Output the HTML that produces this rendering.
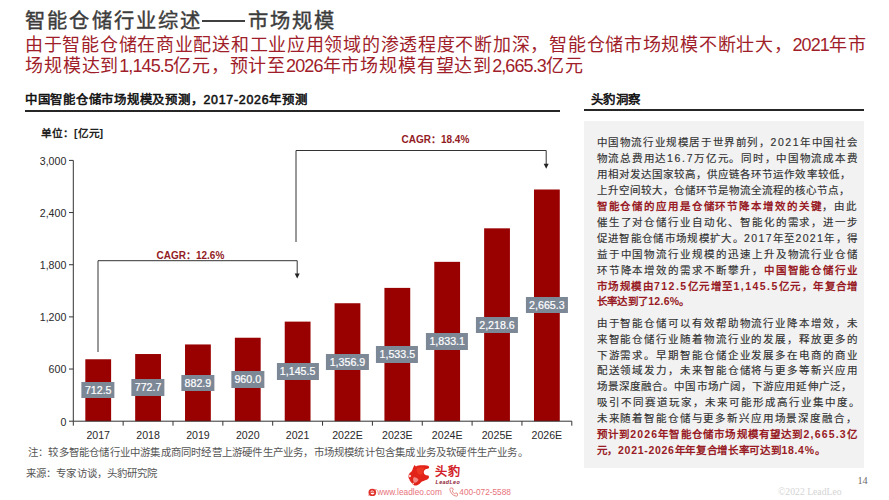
<!DOCTYPE html><html lang="zh-CN"><head><meta charset="utf-8"><style>
*{margin:0;padding:0;box-sizing:border-box}
html,body{width:889px;height:500px;overflow:hidden;background:#fff}
body{position:relative;font-family:"Liberation Sans",sans-serif;}
.abs{position:absolute;white-space:nowrap}
.t{font-size:20.3px;color:#3c3c3c;line-height:26px;-webkit-text-stroke:0.4px #3c3c3c}
.sub{font-size:18px;color:#a01d2a;line-height:22px}
.sub .n{letter-spacing:-0.9px}
.h{font-size:12.4px;font-weight:normal;color:#111;line-height:17px;-webkit-text-stroke:0.55px #111}
.unit{font-size:10.7px;font-weight:bold;color:#222;line-height:14px}
.ax{font-size:10.6px;fill:#2a2a2a;font-family:"Liberation Sans",sans-serif}
.cg{font-size:10px;font-weight:bold;color:#931b24;line-height:13px}
.dl{transform:translateX(-50%);background:#7d8897;color:#fff;-webkit-text-stroke:0.2px #fff;font-size:10.67px;line-height:16.3px;height:16.3px;padding:0 3.3px}
.fn{font-size:10.4px;color:#555;line-height:14px}
.pl{font-size:10.5px;color:#333;line-height:16px;-webkit-text-stroke:0.15px #333}
.pl b{-webkit-text-stroke:0}
.pl b{color:#981b25}
.web{font-size:8.3px;color:#e8737c;line-height:11px}
</style></head><body>
<div id="title" class="t abs" style="left:25px;top:8px;letter-spacing:2.181px">智能仓储行业综述</div>
<div class="abs" style="left:201.8px;top:20.4px;width:43.7px;height:1.6px;background:#404040"></div>
<div id="title2" class="t abs" style="left:247.5px;top:8px;letter-spacing:2.0px">市场规模</div>
<div id="sub1" class="sub abs" style="left:25px;top:34px;letter-spacing:0.717px">由于智能仓储在商业配送和工业应用领域的渗透程度不断加深，智能仓储市场规模不断壮大，<span class="n">2021</span>年市</div>
<div id="sub2" class="sub abs" style="left:25px;top:54.5px;letter-spacing:0.846px">场规模达到<span class="n">1,145.5</span>亿元，预计至<span class="n">2026</span>年市场规模有望达到<span class="n">2,665.3</span>亿元</div>
<div id="h1" class="h abs" style="left:25px;top:91.8px;letter-spacing:0.744px">中国智能仓储市场规模及预测，2017-2026年预测</div>
<div class="abs" style="left:25px;top:110.1px;width:535px;height:1.7px;background:#262626"></div>
<div id="h2" class="h abs" style="left:590.5px;top:91.8px;letter-spacing:0.603px">头豹洞察</div>
<div class="abs" style="left:584px;top:109.1px;width:280px;height:1.7px;background:#262626"></div>
<div class="abs" style="left:584px;top:121px;width:279.6px;height:347px;background:#f2f2f2"></div>
<div class="unit abs" style="left:41px;top:125.5px;">单位：[亿元]</div>
<svg class="abs" style="left:0;top:0" width="889" height="500" viewBox="0 0 889 500"><line x1="73.3" y1="160.40" x2="73.3" y2="421.2" stroke="#333" stroke-width="1"/><line x1="69.0" y1="421.20" x2="73.3" y2="421.20" stroke="#333" stroke-width="1"/><text x="66.3" y="425.60" text-anchor="end" class="ax">0</text><line x1="69.0" y1="369.04" x2="73.3" y2="369.04" stroke="#333" stroke-width="1"/><text x="66.3" y="373.44" text-anchor="end" class="ax">600</text><line x1="69.0" y1="316.88" x2="73.3" y2="316.88" stroke="#333" stroke-width="1"/><text x="66.3" y="321.28" text-anchor="end" class="ax">1,200</text><line x1="69.0" y1="264.72" x2="73.3" y2="264.72" stroke="#333" stroke-width="1"/><text x="66.3" y="269.12" text-anchor="end" class="ax">1,800</text><line x1="69.0" y1="212.56" x2="73.3" y2="212.56" stroke="#333" stroke-width="1"/><text x="66.3" y="216.96" text-anchor="end" class="ax">2,400</text><line x1="69.0" y1="160.40" x2="73.3" y2="160.40" stroke="#333" stroke-width="1"/><text x="66.3" y="164.80" text-anchor="end" class="ax">3,000</text><rect x="85.32" y="359.26" width="25.8" height="61.94" fill="#990000"/><rect x="135.17" y="354.03" width="25.8" height="67.17" fill="#990000"/><rect x="185.03" y="344.45" width="25.8" height="76.75" fill="#990000"/><rect x="234.87" y="337.74" width="25.8" height="83.46" fill="#990000"/><rect x="284.73" y="321.62" width="25.8" height="99.58" fill="#990000"/><rect x="334.58" y="303.24" width="25.8" height="117.96" fill="#990000"/><rect x="384.43" y="287.89" width="25.8" height="133.31" fill="#990000"/><rect x="434.28" y="261.84" width="25.8" height="159.36" fill="#990000"/><rect x="484.13" y="228.33" width="25.8" height="192.87" fill="#990000"/><rect x="533.98" y="189.50" width="25.8" height="231.70" fill="#990000"/><line x1="73.3" y1="421.2" x2="571.80" y2="421.2" stroke="#333" stroke-width="1"/><line x1="73.30" y1="421.2" x2="73.30" y2="425.7" stroke="#333" stroke-width="1"/><line x1="123.15" y1="421.2" x2="123.15" y2="425.7" stroke="#333" stroke-width="1"/><line x1="173.00" y1="421.2" x2="173.00" y2="425.7" stroke="#333" stroke-width="1"/><line x1="222.85" y1="421.2" x2="222.85" y2="425.7" stroke="#333" stroke-width="1"/><line x1="272.70" y1="421.2" x2="272.70" y2="425.7" stroke="#333" stroke-width="1"/><line x1="322.55" y1="421.2" x2="322.55" y2="425.7" stroke="#333" stroke-width="1"/><line x1="372.40" y1="421.2" x2="372.40" y2="425.7" stroke="#333" stroke-width="1"/><line x1="422.25" y1="421.2" x2="422.25" y2="425.7" stroke="#333" stroke-width="1"/><line x1="472.10" y1="421.2" x2="472.10" y2="425.7" stroke="#333" stroke-width="1"/><line x1="521.95" y1="421.2" x2="521.95" y2="425.7" stroke="#333" stroke-width="1"/><line x1="571.80" y1="421.2" x2="571.80" y2="425.7" stroke="#333" stroke-width="1"/><text x="98.22" y="438.8" text-anchor="middle" class="ax">2017</text><text x="148.07" y="438.8" text-anchor="middle" class="ax">2018</text><text x="197.93" y="438.8" text-anchor="middle" class="ax">2019</text><text x="247.77" y="438.8" text-anchor="middle" class="ax">2020</text><text x="297.62" y="438.8" text-anchor="middle" class="ax">2021</text><text x="347.48" y="438.8" text-anchor="middle" class="ax">2022E</text><text x="397.33" y="438.8" text-anchor="middle" class="ax">2023E</text><text x="447.18" y="438.8" text-anchor="middle" class="ax">2024E</text><text x="497.03" y="438.8" text-anchor="middle" class="ax">2025E</text><text x="546.88" y="438.8" text-anchor="middle" class="ax">2026E</text><polyline points="98,352 98,260.7 297.2,260.7 297.2,274" fill="none" stroke="#333" stroke-width="1"/><polygon points="294.7,273.6 299.7,273.6 297.2,278.6" fill="#222"/><polyline points="296,242 296,150.5 546.2,150.5 546.2,164" fill="none" stroke="#333" stroke-width="1"/><polygon points="543.7,163.8 548.7,163.8 546.2,168.8" fill="#222"/></svg>
<div class="cg abs" style="left:156.5px;top:248.5px;">CAGR：12.6%</div>
<div class="cg abs" style="left:401.5px;top:132.5px;">CAGR：18.4%</div>
<div class="dl abs" style="left:98.22px;top:382.08px;">712.5</div>
<div class="dl abs" style="left:148.07px;top:379.46px;">772.7</div>
<div class="dl abs" style="left:197.93px;top:374.67px;">882.9</div>
<div class="dl abs" style="left:247.77px;top:371.32px;">960.0</div>
<div class="dl abs" style="left:297.62px;top:363.26px;">1,145.5</div>
<div class="dl abs" style="left:347.48px;top:354.07px;">1,356.9</div>
<div class="dl abs" style="left:397.33px;top:346.39px;">1,533.5</div>
<div class="dl abs" style="left:447.18px;top:333.37px;">1,833.1</div>
<div class="dl abs" style="left:497.03px;top:316.61px;">2,218.6</div>
<div class="dl abs" style="left:546.88px;top:297.20px;">2,665.3</div>
<div id="fn1" class="fn abs" style="left:28px;top:446px;letter-spacing:0.199px">注：较多智能仓储行业中游集成商同时经营上游硬件生产业务，市场规模统计包含集成业务及软硬件生产业务。</div>
<div id="fn2" class="fn abs" style="left:26px;top:466.7px;letter-spacing:0.122px">来源：专家访谈，头豹研究院</div>
<div id="p0" class="pl abs" style="left:596.7px;top:134.3px;letter-spacing:1.587px">中国物流行业规模居于世界前列，2021年中国社会</div>
<div id="p1" class="pl abs" style="left:596.7px;top:150.2px;letter-spacing:1.717px">物流总费用达16.7万亿元。同时，中国物流成本费</div>
<div id="p2" class="pl abs" style="left:596.7px;top:166.1px;letter-spacing:1.045px">用相对发达国家较高，供应链各环节运作效率较低，</div>
<div id="p3" class="pl abs" style="left:596.7px;top:182.0px;letter-spacing:1.0px">上升空间较大，仓储环节是物流全流程的核心节点，</div>
<div id="p4" class="pl abs" style="left:596.7px;top:197.9px;letter-spacing:1.881px"><b>智能仓储的应用是仓储环节降本增效的关键</b>，由此</div>
<div id="p5" class="pl abs" style="left:596.7px;top:213.9px;letter-spacing:1.929px">催生了对仓储行业自动化、智能化的需求，进一步</div>
<div id="p6" class="pl abs" style="left:596.7px;top:229.8px;letter-spacing:1.34px">促进智能仓储市场规模扩大。2017年至2021年，得</div>
<div id="p7" class="pl abs" style="left:596.7px;top:245.7px;letter-spacing:1.929px">益于中国物流行业规模的迅速上升及物流行业仓储</div>
<div id="p8" class="pl abs" style="left:596.7px;top:261.6px;letter-spacing:1.929px">环节降本增效的需求不断攀升，<b>中国智能仓储行业</b></div>
<div id="p9" class="pl abs" style="left:596.7px;top:277.5px;letter-spacing:1.463px"><b>市场规模由712.5亿元增至1,145.5亿元，年复合增</b></div>
<div id="p10" class="pl abs" style="left:596.7px;top:293.4px;letter-spacing:0.3px"><b>长率达到了12.6%。</b></div>
<div id="p11" class="pl abs" style="left:596.7px;top:314.7px;letter-spacing:1.906px">由于智能仓储可以有效帮助物流行业降本增效，未</div>
<div id="p12" class="pl abs" style="left:596.7px;top:330.6px;letter-spacing:1.906px">来智能仓储行业随着物流行业的发展，释放更多的</div>
<div id="p13" class="pl abs" style="left:596.7px;top:346.5px;letter-spacing:1.906px">下游需求。早期智能仓储企业发展多在电商的商业</div>
<div id="p14" class="pl abs" style="left:596.7px;top:362.4px;letter-spacing:1.906px">配送领域发力，未来智能仓储将与更多等新兴应用</div>
<div id="p15" class="pl abs" style="left:596.7px;top:378.4px;letter-spacing:1.1px">场景深度融合。中国市场广阔，下游应用延伸广泛，</div>
<div id="p16" class="pl abs" style="left:596.7px;top:394.3px;letter-spacing:2.022px">吸引不同赛道玩家，未来可能形成高行业集中度。</div>
<div id="p17" class="pl abs" style="left:596.7px;top:410.2px;letter-spacing:1.858px">未来随着智能仓储与更多新兴应用场景深度融合，</div>
<div id="p18" class="pl abs" style="left:596.7px;top:426.1px;letter-spacing:1.176px"><b>预计到2026年智能仓储市场规模有望达到2,665.3亿</b></div>
<div id="p19" class="pl abs" style="left:596.7px;top:442.0px;letter-spacing:0.692px"><b>元，2021-2026年年复合增长率可达到18.4%。</b></div>
<svg class="abs" style="left:404px;top:462px" width="30" height="26" viewBox="0 0 30 26">
<path d="M10.4,3.1 L12,4.4 C14,3.3 18,3.1 22.9,3.6 C24.6,3.8 25.4,4.6 25.1,5.8 C24.8,6.7 23.5,7.1 22,6.9 C20.5,7.6 19.6,9 19.8,10.5 C20,12 20.7,12.7 22.2,13.2 L24.3,13.5 C25.4,14.3 25.3,15.9 24,16.9 C22.5,17.8 20,18.6 18,19.6 C16.5,21 15,22.9 12.5,23.5 C10.5,23.9 9,22.6 8,21.2 C6,19.6 4.6,17 4.4,14.6 C4.4,12.5 5.4,11 7,10 C8,9 8.6,8 8.8,6.6 Z" fill="#e2231a"/>
<path d="M13,6 C16,4.8 19,5 21,6.2 C19.5,7.5 18.4,9.5 18.6,11.5 C18,13 16,13.2 14.5,12 C12.8,10.5 12.3,8 13,6 Z" fill="#f0402a" opacity="0.7"/>
<path d="M9.5,15.5 C11.5,15 13.5,16 14.5,18 C13.5,20 11.5,21 10,20.5 C9,19 8.8,17 9.5,15.5 Z" fill="#f7b5b0" opacity="0.7"/>
<circle cx="5.8" cy="13.9" r="1.25" fill="#fbd0cc"/><circle cx="5.4" cy="18.3" r="0.8" fill="#fbd0cc"/><circle cx="9.3" cy="21.6" r="0.8" fill="#fbd0cc"/>
</svg>
<div class="abs" style="left:435.3px;top:463.5px;font-size:12.2px;font-weight:bold;color:#d21f2a;line-height:16px;letter-spacing:0.3px">头豹</div>
<div class="abs" style="left:435.5px;top:478.5px;font-size:5.3px;font-weight:bold;font-style:italic;color:#8e2233;line-height:6px;letter-spacing:0.4px">LeadLeo</div>
<svg class="abs" style="left:367.5px;top:488px" width="9" height="9" viewBox="0 0 9 9"><ellipse cx="4.3" cy="4.4" rx="3.8" ry="3.7" fill="#e0302a"/><path d="M2.4,4.2 C2.5,3 3.3,2.4 4.3,2.4 C5.3,2.4 6,3.1 6.1,4.2 Z" fill="#fff"/><rect x="2.4" y="3.8" width="3.7" height="0.9" fill="#e0302a"/><path d="M2.4,4.7 C2.6,5.9 3.4,6.4 4.4,6.4 C5.2,6.4 5.8,6 6.1,5.5 L6.3,5.6 L6.3,4.7 Z" fill="#fff"/><path d="M1,7.8 C0.2,7 1.8,5.4 4.2,3.6 C6.6,1.9 8.4,1.2 8.8,1.8" fill="none" stroke="#e0302a" stroke-width="0.6"/></svg>
<div class="abs web" style="left:377.3px;top:487.2px;">www.leadleo.com</div>
<svg class="abs" style="left:448.5px;top:487px" width="9" height="10" viewBox="0 0 9 10"><path d="M2,1 L3.5,1 L4.3,3 L3.2,4 C3.8,5.4 4.6,6.3 5.8,6.9 L6.8,5.8 L8.5,6.6 L8.5,8.3 C8.5,8.9 8,9.3 7.3,9.2 C3.8,8.6 1.2,5.9 0.8,2.3 C0.7,1.6 1.2,1 2,1 Z" fill="none" stroke="#e0807a" stroke-width="0.9"/></svg>
<div class="abs web" style="left:459.3px;top:487.2px;">400-072-5588</div>
<div class="abs" style="left:857.5px;top:474.6px;font-family:'Liberation Serif',serif;font-size:10.2px;color:#6a6a6a;line-height:11px;">14</div>
<div class="abs" style="left:778px;top:485.5px;font-family:'Liberation Serif',serif;font-size:9.7px;color:#d4d4d4;line-height:11px;">©2022 LeadLeo</div>
</body></html>
